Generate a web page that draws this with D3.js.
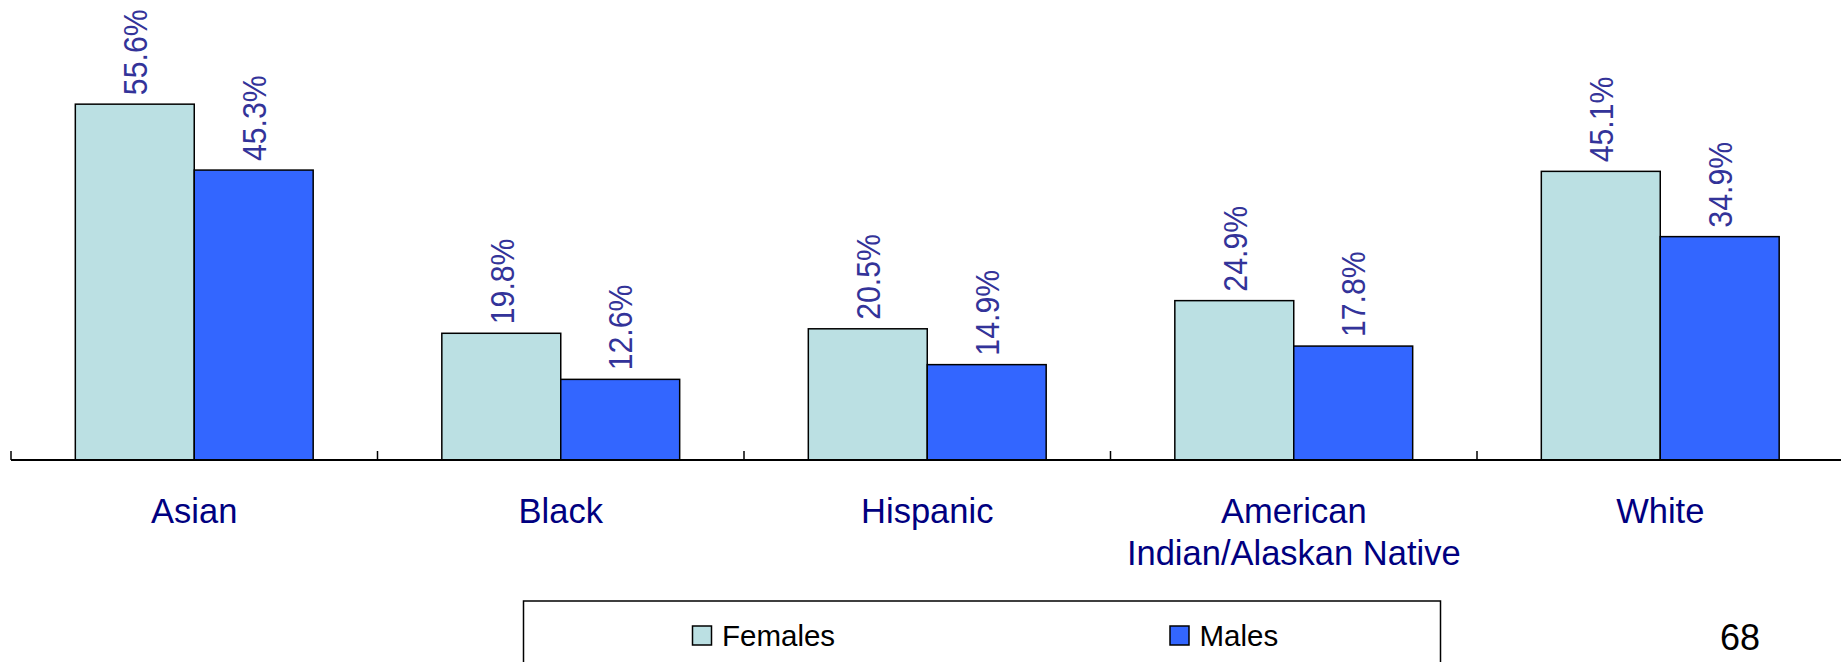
<!DOCTYPE html>
<html>
<head>
<meta charset="utf-8">
<script src="https://cdnjs.cloudflare.com/ajax/libs/d3/7.8.5/d3.min.js"></script>
<style>
  html, body { margin: 0; padding: 0; background: #fff; overflow: hidden; }
  svg { display: block; font-family: "Liberation Sans", Arial, sans-serif; }
</style>
</head>
<body>
<svg></svg>
<script>
// Chart data
var categories = ["Asian", "Black", "Hispanic", "American\nIndian/Alaskan Native", "White"];
var series = ["Females", "Males"];
var females = [55.6, 19.8, 20.5, 24.9, 45.1];
var males = [45.3, 12.6, 14.9, 17.8, 34.9];
var pageNumber = "68";

var colors = ["#BBE0E3", "#3366FF"];

// Size of the page
var width = 1841;
var height = 662;

var baseY = 460;   // category axis position

var svg = d3.select("svg")
    .attr("width", width)
    .attr("height", height);

// Scales
var x = d3.scaleBand()
    .domain(categories)
    .range([11, 11 + 5 * 366.5]);

var x1 = d3.scaleBand()
    .domain(series)
    .range([x.bandwidth() * 0.1755, x.bandwidth() * 0.8245]);

var y = d3.scaleLinear()
    .domain([0, 70])
    .range([baseY, baseY - 70 * 6.4]);

var color = d3.scaleOrdinal()
    .domain(series)
    .range(colors);

// build rows from the arrays
var rows = categories.map(function(c, i) {
    return { cat: c, values: [
        { key: "Females", value: females[i] },
        { key: "Males", value: males[i] }
    ]};
});

var groups = svg.selectAll("g.group")
    .data(rows)
    .enter().append("g")
    .attr("class", "group")
    .attr("transform", function(d) { return "translate(" + x(d.cat) + ",0)"; });

groups.selectAll("rect")
    .data(function(d) { return d.values; })
    .enter().append("rect")
    .attr("x", function(d) { return x1(d.key); })
    .attr("y", function(d) { return y(d.value); })
    .attr("width", x1.bandwidth())
    .attr("height", function(d) { return y(0) - y(d.value); })
    .style("fill", function(d) { return color(d.key); })
    .style("stroke", "#000")
    .style("stroke-width", 1.5);

// value labels, rotated
groups.selectAll("text.val")
    .data(function(d) { return d.values; })
    .enter().append("text")
    .attr("class", "val")
    .attr("transform", function(d) {
        return "translate(" + (x1(d.key) + x1.bandwidth() / 2) + "," + (y(d.value) - 9) + ") rotate(-90)";
    })
    .attr("dy", "0.36em")
    .attr("text-anchor", "start")
    .style("font-size", "34px")
    .style("fill", "#333399")
    .text(function(d) { return d.value.toFixed(1) + "%"; })
    .each(function() {
        // the labels in the original are a bit narrower than the font
        var len = this.getComputedTextLength();
        d3.select(this).attr("textLength", len * 0.89).attr("lengthAdjust", "spacingAndGlyphs");
    });

// Category axis
var axis = svg.append("g").attr("class", "axis");

axis.append("line")
    .attr("x1", x.range()[0])
    .attr("x2", width)
    .attr("y1", baseY)
    .attr("y2", baseY)
    .style("stroke", "#000")
    .style("stroke-width", 1.8);

var tickPos = categories.map(function(c) { return x(c); }).concat([x.range()[1]]);

axis.selectAll("line.tick")
    .data(tickPos)
    .enter().append("line")
    .attr("class", "tick")
    .attr("x1", function(d) { return d; })
    .attr("x2", function(d) { return d; })
    .attr("y1", baseY - 9)
    .attr("y2", baseY)
    .style("stroke", "#000")
    .style("stroke-width", 1.5);

var catLabels = axis.selectAll("text.cat")
    .data(categories)
    .enter().append("text")
    .attr("class", "cat")
    .attr("x", function(d) { return x(d) + x.bandwidth() / 2; })
    .attr("y", 523)
    .attr("text-anchor", "middle")
    .style("font-size", "34.5px")
    .style("fill", "#000080");

catLabels.selectAll("tspan")
    .data(function(d) { return d.split("\n"); })
    .enter().append("tspan")
    .attr("x", function() { return d3.select(this.parentNode).attr("x"); })
    .attr("dy", function(d, i) { return i === 0 ? 0 : 42; })
    .text(function(d) { return d; });

// Legend box (runs off the bottom of the page)
var legend = svg.append("g").attr("class", "legend");

legend.append("rect")
    .attr("x", 523.5)
    .attr("y", 601)
    .attr("width", 917)
    .attr("height", 100)
    .style("fill", "none")
    .style("stroke", "#000")
    .style("stroke-width", 1.5);

var legendX = [692.5, 1170];

var items = legend.selectAll("g.item")
    .data(series)
    .enter().append("g")
    .attr("class", "item")
    .attr("transform", function(d, i) { return "translate(" + legendX[i] + ",0)"; });

items.append("rect")
    .attr("x", 0)
    .attr("y", 626)
    .attr("width", 19)
    .attr("height", 19)
    .style("fill", function(d) { return color(d); })
    .style("stroke", "#000")
    .style("stroke-width", 1.5);

items.append("text")
    .attr("x", 29.5)
    .attr("y", 645.5)
    .style("font-size", "29.5px")
    .style("fill", "#000")
    .text(function(d) { return d; });

// page number
svg.append("text")
    .attr("x", 1740)
    .attr("y", 650)
    .attr("text-anchor", "middle")
    .style("font-size", "36px")
    .style("fill", "#000")
    .text(pageNumber);
</script>
</body>
</html>
